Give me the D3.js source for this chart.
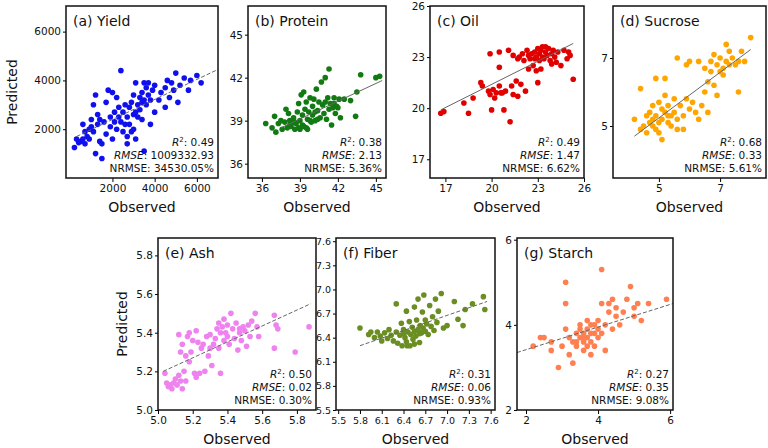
<!DOCTYPE html>
<html>
<head>
<meta charset="UTF-8">
<style>
body { margin: 0; background: #fff; font-family: 'DejaVu Sans', sans-serif; }
svg text { fill: #111; }
</style>
</head>
<body>
<svg id="chart" width="768" height="448"></svg>
<script src="https://d3js.org/d3.v7.min.js"></script>
<script>
// observed / predicted pairs
const yieldPts = [[200,1250],[300,1600],[400,1450],[500,1500],[600,1600],[600,2200],[700,1400],[700,1900],[800,1700],[900,2000],[900,1600],[1000,2100],[1000,2400],[1100,1900],[1100,3000],[1200,3400],[1200,1000],[1300,2200],[1300,2600],[1400,1500],[1400,2400],[1500,1400],[1500,800],[1600,2300],[1700,1800],[1700,3100],[1800,3600],[1900,2100],[1900,2500],[2000,3500],[2000,1600],[2100,2300],[2100,2700],[2200,3300],[2200,2000],[2300,2500],[2300,2900],[2400,4400],[2400,2300],[2500,1900],[2500,2700],[2600,2200],[2600,3000],[2700,1700],[2700,2500],[2700,1400],[2800,2900],[2800,2200],[2900,1900],[2900,3100],[3000,2600],[3000,2000],[3000,3400],[3100,3900],[3100,2700],[3100,1600],[3200,2500],[3200,3000],[3300,3300],[3300,2800],[3400,3500],[3400,3100],[3400,2400],[3500,3900],[3500,3200],[3500,1100],[3600,3000],[3600,3700],[3700,3400],[3700,3900],[3800,3200],[3800,2200],[3900,3600],[4000,2700],[4000,3800],[4200,3200],[4300,3500],[4500,3700],[4500,2900],[4600,4000],[4700,3300],[4800,3900],[4900,3600],[5000,4300],[5100,3100],[5200,3800],[5400,4100],[5600,3600],[5700,4000],[6000,4200],[6200,3900]];
const proteinPts = [[36.3,38.8],[36.8,38.5],[37.0,39.3],[37.1,38.2],[37.3,38.8],[37.5,39.0],[37.6,38.4],[37.8,38.9],[37.9,39.8],[38.0,38.5],[38.1,39.5],[38.2,39.0],[38.3,38.6],[38.4,38.9],[38.5,39.2],[38.6,38.4],[38.7,38.8],[38.8,39.6],[38.9,40.2],[39.0,38.4],[39.0,39.0],[39.1,40.8],[39.2,39.4],[39.2,38.7],[39.3,41.0],[39.4,39.8],[39.5,38.5],[39.5,40.3],[39.6,39.1],[39.7,39.6],[39.8,40.6],[39.9,38.9],[40.0,39.4],[40.0,40.0],[40.1,40.5],[40.2,39.0],[40.3,41.2],[40.4,39.7],[40.5,40.3],[40.6,39.2],[40.7,41.7],[40.8,40.1],[40.9,39.5],[41.0,42.0],[41.1,39.1],[41.2,40.6],[41.3,42.6],[41.3,39.8],[41.4,40.2],[41.5,38.7],[41.6,39.9],[41.7,40.6],[41.8,39.5],[41.9,40.0],[42.0,39.9],[42.1,40.5],[42.2,39.2],[42.5,40.5],[43.0,40.4],[43.4,39.3],[43.5,41.0],[43.8,42.2],[45.0,42.0],[45.3,42.1],[38.2,38.7],[38.6,38.9],[38.9,38.5],[39.3,38.6],[39.6,38.4],[39.8,39.0],[40.2,39.6],[40.4,39.1],[41.0,40.3],[41.7,40.2]];
const oilPts = [[16.7,19.7],[16.9,19.8],[18.2,20.3],[18.5,19.7],[18.8,20.6],[19.3,21.5],[19.4,21.3],[19.8,21.0],[19.9,23.2],[19.9,20.8],[20.0,19.9],[20.1,21.1],[20.2,20.6],[20.3,20.9],[20.5,22.4],[20.5,21.3],[20.5,23.3],[20.6,20.9],[20.7,20.9],[20.8,19.9],[20.9,21.0],[21.1,23.4],[21.2,19.2],[21.3,21.3],[21.4,20.8],[21.4,23.1],[21.6,21.6],[21.7,20.7],[21.7,22.9],[21.9,21.4],[22.0,23.2],[22.1,22.8],[22.2,21.0],[22.3,23.4],[22.4,23.1],[22.5,22.9],[22.6,23.2],[22.7,22.5],[22.8,23.3],[22.9,22.2],[22.9,23.0],[23.0,23.5],[23.0,21.5],[23.1,23.2],[23.1,22.8],[23.2,23.4],[23.2,22.3],[23.3,23.0],[23.3,23.6],[23.4,22.9],[23.5,23.3],[23.6,23.1],[23.7,23.5],[23.8,22.8],[23.9,23.2],[24.0,23.4],[24.1,23.0],[24.2,22.7],[24.3,23.3],[24.5,22.5],[24.7,23.4],[24.9,22.9],[25.0,23.3],[25.1,23.1],[25.3,21.7],[23.5,23.6],[22.8,22.9],[21.8,23.0],[23.9,22.6],[22.4,22.3]];
const sucrosePts = [[4.2,5.2],[4.4,4.9],[4.4,6.1],[4.5,5.0],[4.6,5.3],[4.6,4.8],[4.7,5.4],[4.7,5.1],[4.8,5.6],[4.8,5.0],[4.9,5.3],[4.9,4.9],[4.9,6.4],[5.0,5.7],[5.0,5.1],[5.0,4.8],[5.1,5.5],[5.1,5.2],[5.2,6.4],[5.2,5.4],[5.2,5.9],[5.3,5.1],[5.3,5.6],[5.4,5.3],[5.4,5.0],[5.5,5.8],[5.5,5.4],[5.6,7.0],[5.6,5.2],[5.6,4.9],[5.7,5.6],[5.8,5.3],[5.8,4.9],[5.9,6.8],[5.9,5.8],[6.0,5.5],[6.0,6.9],[6.1,5.7],[6.2,5.4],[6.3,6.9],[6.3,5.2],[6.4,5.6],[6.5,6.7],[6.5,6.0],[6.6,6.3],[6.6,5.4],[6.7,6.9],[6.7,6.6],[6.8,7.1],[6.8,6.2],[6.9,6.8],[6.9,5.9],[7.0,7.0],[7.0,6.6],[7.1,6.7],[7.1,6.5],[7.2,7.4],[7.2,6.9],[7.3,7.2],[7.3,6.8],[7.4,7.0],[7.5,6.8],[7.6,6.0],[7.6,6.9],[7.7,7.2],[7.8,6.9],[8.0,7.6],[5.1,4.6],[4.8,5.2],[5.3,5.3]];
const ashPts = [[5.04,5.19],[5.05,5.14],[5.06,5.12],[5.07,5.13],[5.08,5.11],[5.09,5.14],[5.10,5.16],[5.11,5.13],[5.12,5.18],[5.12,5.39],[5.13,5.15],[5.13,5.30],[5.14,5.11],[5.14,5.34],[5.15,5.20],[5.16,5.15],[5.16,5.28],[5.17,5.38],[5.18,5.25],[5.18,5.40],[5.19,5.30],[5.20,5.36],[5.21,5.19],[5.22,5.17],[5.22,5.41],[5.23,5.35],[5.24,5.19],[5.25,5.32],[5.26,5.34],[5.27,5.20],[5.28,5.38],[5.29,5.28],[5.30,5.39],[5.30,5.32],[5.31,5.23],[5.32,5.34],[5.33,5.37],[5.34,5.42],[5.35,5.32],[5.35,5.45],[5.36,5.19],[5.36,5.40],[5.37,5.43],[5.38,5.36],[5.38,5.47],[5.39,5.40],[5.40,5.38],[5.40,5.44],[5.41,5.34],[5.42,5.50],[5.43,5.42],[5.44,5.37],[5.45,5.45],[5.46,5.31],[5.47,5.42],[5.47,5.40],[5.48,5.36],[5.49,5.43],[5.50,5.41],[5.51,5.33],[5.52,5.44],[5.53,5.38],[5.54,5.46],[5.56,5.50],[5.57,5.43],[5.58,5.38],[5.67,5.49],[5.67,5.32],[5.68,5.44],[5.69,5.42],[5.79,5.30],[5.87,5.43]];
const fiberPts = [[5.80,6.52],[5.92,6.44],[5.95,6.47],[6.00,6.40],[6.04,6.47],[6.08,6.42],[6.10,6.36],[6.14,6.46],[6.18,6.39],[6.20,6.50],[6.23,6.43],[6.26,6.36],[6.30,6.82],[6.30,6.47],[6.32,6.33],[6.35,6.43],[6.37,6.58],[6.38,6.30],[6.40,6.50],[6.42,6.40],[6.44,6.73],[6.44,6.35],[6.46,6.47],[6.48,6.60],[6.49,6.30],[6.50,6.44],[6.52,6.53],[6.53,6.38],[6.55,6.78],[6.55,6.48],[6.57,6.42],[6.58,6.62],[6.60,6.50],[6.60,6.88],[6.62,6.34],[6.63,6.55],[6.65,6.46],[6.66,6.72],[6.67,6.52],[6.68,6.93],[6.70,6.48],[6.70,6.62],[6.72,6.57],[6.74,6.44],[6.76,6.80],[6.78,6.54],[6.80,6.66],[6.82,6.49],[6.84,6.88],[6.86,6.59],[6.88,6.73],[6.92,6.95],[6.95,6.52],[7.00,6.55],[7.10,6.85],[7.15,6.63],[7.22,6.55],[7.25,6.75],[7.35,6.82],[7.50,6.91],[7.52,6.75],[6.45,6.30],[6.55,6.32],[6.40,6.45],[6.62,6.45]];
const starchPts = [[2.2,3.5],[2.4,3.7],[2.5,3.7],[2.7,3.4],[2.7,3.6],[2.9,3.0],[3.0,3.5],[3.1,5.0],[3.1,3.9],[3.1,4.5],[3.2,3.7],[3.2,3.3],[3.3,3.6],[3.3,3.1],[3.4,3.8],[3.4,3.5],[3.5,3.7],[3.5,4.0],[3.6,3.4],[3.6,3.8],[3.6,3.6],[3.7,3.9],[3.7,3.5],[3.7,3.7],[3.8,3.6],[3.8,4.0],[3.8,3.3],[3.9,3.8],[3.9,3.5],[4.0,3.7],[4.0,4.1],[4.0,3.9],[4.1,4.5],[4.1,5.3],[4.1,3.8],[4.2,3.4],[4.2,4.0],[4.3,4.3],[4.3,4.5],[4.4,3.9],[4.4,4.6],[4.5,4.2],[4.5,4.4],[4.6,4.0],[4.7,4.3],[4.8,4.6],[4.9,4.9],[5.0,4.2],[5.0,4.4],[5.1,4.5],[5.2,4.1],[5.4,4.5],[5.9,4.6],[3.5,3.9],[3.7,4.1],[3.9,4.0],[3.4,3.6],[3.8,3.8],[3.6,3.7]];

const titles = ['(a) Yield','(b) Protein','(c) Oil','(d) Sucrose','(e) Ash','(f) Fiber','(g) Starch'];
const colors = ['#1010ee','#127a12','#e00000','#ffa500','#ee82ee','#6b8e23','#ff7f50'];
const r2 = ['0.49','0.38','0.49','0.68','0.50','0.31','0.27'];
const rmse = ['1009332.93','2.13','1.47','0.33','0.02','0.06','0.35'];
const nrmse = ['34530.05%','5.36%','6.62%','5.61%','0.30%','0.93%','9.08%'];
const xTicks = [[2000,4000,6000],[36,39,42,45],[17,20,23,26],[5,7],[5.0,5.2,5.4,5.6,5.8],[5.5,5.8,6.1,6.4,6.7,7.0,7.3,7.6],[2,4,6]];
const yTicks = [[2000,4000,6000],[36,39,42,45],[17,20,23,26],[5,7],[5.0,5.2,5.4,5.6,5.8],[5.5,5.8,6.1,6.4,6.7,7.0,7.3,7.6],[2,4,6]];
const xDomains = [[-200,7000],[34.9,45.8],[16,26],[3.5,8.5],[5.0,5.91],[5.47,7.66],[1.75,6.08]];
const yDomains = [[0,7050],[35,47],[15.9,26],[3.47,8.53],[5.0,5.89],[5.5,7.64],[2,6.04]];
// fitted lines: [x0,y0,x1,y1]
const fitLines = [[300,1700,7000,4450],[37.5,38.5,45.5,41.8],[16.7,19.9,25.3,23.8],[4.2,4.7,8.0,7.25],[5.03,5.2,5.88,5.55],[5.8,6.3,7.55,6.85],[1.75,3.35,6.08,4.5]];
const dashed = [true,false,false,false,true,true,true];
const tickFormats = [d3.format('d'),d3.format('d'),d3.format('d'),d3.format('d'),d3.format('.1f'),d3.format('.1f'),d3.format('d')];
const allPts = [yieldPts,proteinPts,oilPts,sucrosePts,ashPts,fiberPts,starchPts];

// panel boxes in pixels [left, top, right, bottom]
const boxes = [[66,6,218,178],[248,6,386,178],[430,6,584,178],[613,6,766,178],[158,238,316,410],[336,238,495,410],[517,238,673,410]];

const svg = d3.select('#chart');

boxes.forEach(function (b, i) {
  const x = d3.scaleLinear().domain(xDomains[i]).range([b[0], b[2]]);
  const y = d3.scaleLinear().domain(yDomains[i]).range([b[3], b[1]]);
  const g = svg.append('g');
  const fs = i === 5 ? 9.5 : 10.5;

  const clip = 'clip' + i;
  svg.append('clipPath').attr('id', clip).append('rect')
    .attr('x', b[0]).attr('y', b[1]).attr('width', b[2] - b[0]).attr('height', b[3] - b[1]);

  const inner = g.append('g').attr('clip-path', 'url(#' + clip + ')');
  inner.selectAll('circle').data(allPts[i]).join('circle')
    .attr('cx', d => x(d[0])).attr('cy', d => y(d[1])).attr('r', 2.8)
    .attr('fill', colors[i]);

  const f = fitLines[i];
  inner.append('line')
    .attr('x1', x(f[0])).attr('y1', y(f[1])).attr('x2', x(f[2])).attr('y2', y(f[3]))
    .attr('stroke', '#666').attr('stroke-width', 1)
    .attr('stroke-dasharray', dashed[i] ? '4,2' : null);

  g.append('g').attr('transform', 'translate(0,' + b[3] + ')')
    .call(d3.axisBottom(x).tickValues(xTicks[i]).tickFormat(tickFormats[i]).tickSize(4).tickSizeOuter(0))
    .call(a => a.select('.domain').remove())
    .call(a => a.selectAll('text').attr('font-size', fs).attr('font-family', 'DejaVu Sans'));
  g.append('g').attr('transform', 'translate(' + b[0] + ',0)')
    .call(d3.axisLeft(y).tickValues(yTicks[i]).tickFormat(tickFormats[i]).tickSize(3).tickPadding(2).tickSizeOuter(0))
    .call(a => a.select('.domain').remove())
    .call(a => a.selectAll('text').attr('font-size', fs).attr('font-family', 'DejaVu Sans'));

  g.append('rect').attr('x', b[0]).attr('y', b[1])
    .attr('width', b[2] - b[0]).attr('height', b[3] - b[1])
    .attr('fill', 'none').attr('stroke', '#111').attr('stroke-width', 1.5);

  g.append('text').attr('x', b[0] + 7).attr('y', b[1] + 20)
    .attr('font-size', 14).text(titles[i]);

  const st = g.append('text').attr('text-anchor', 'end').attr('font-size', 10.5)
    .attr('x', b[2] - 4).attr('y', b[3] - 32);
  const l1 = st.append('tspan').attr('x', b[2] - 4);
  l1.append('tspan').attr('font-style', 'italic').text('R');
  l1.append('tspan').attr('font-size', 7).attr('dy', -4).text('2');
  l1.append('tspan').attr('dy', 4).text(': ' + r2[i]);
  const l2 = st.append('tspan').attr('x', b[2] - 4).attr('dy', 13);
  l2.append('tspan').attr('font-style', 'italic').text('RMSE');
  l2.append('tspan').text(': ' + rmse[i]);
  st.append('tspan').attr('x', b[2] - 4).attr('dy', 13).text('NRMSE: ' + nrmse[i]);

  g.append('text').attr('x', (b[0] + b[2]) / 2).attr('y', b[3] + 34)
    .attr('text-anchor', 'middle').attr('font-size', 14).text('Observed');
});

[[12, 92], [122, 324]].forEach(function (p) {
  svg.append('text').attr('transform', 'translate(' + p[0] + ',' + p[1] + ') rotate(-90)')
    .attr('text-anchor', 'middle').attr('dy', '0.35em').attr('font-size', 14).text('Predicted');
});
</script>
</body>
</html>
